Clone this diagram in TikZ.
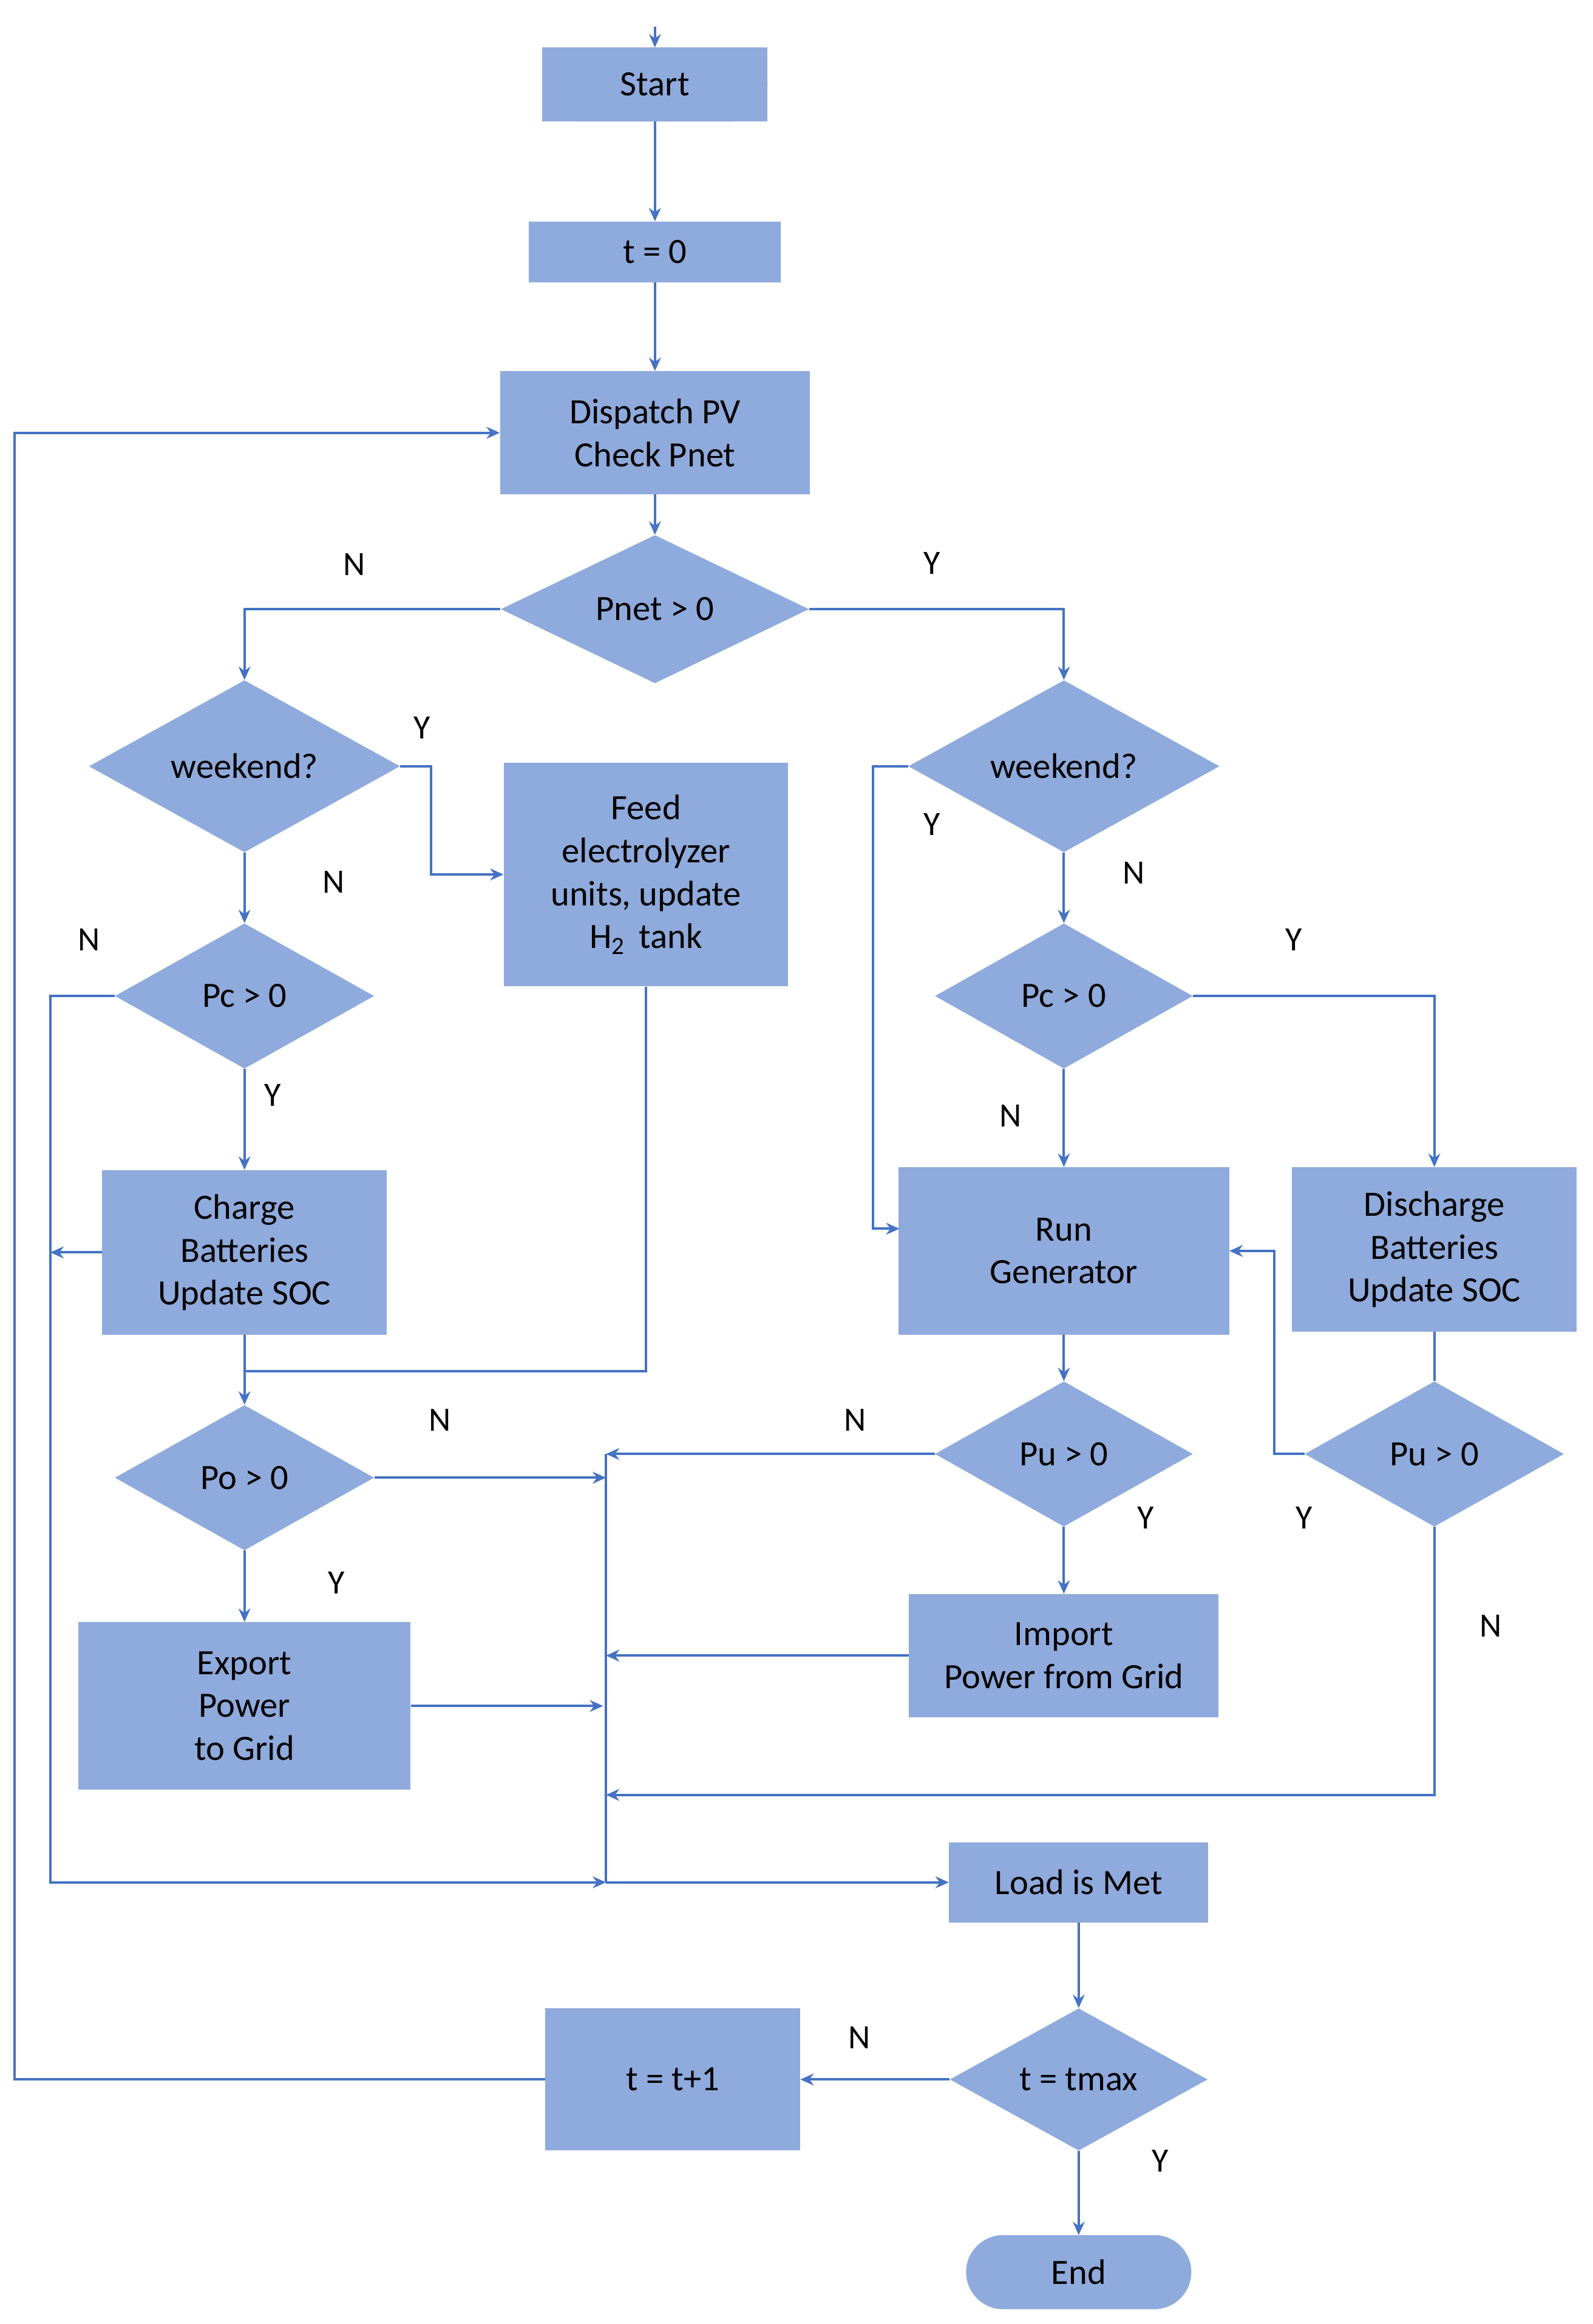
\documentclass[tikz,border=0pt]{standalone}
\usepackage{fontspec}
\setmainfont{Carlito}
\usetikzlibrary{shapes.geometric,arrows.meta}
\definecolor{fillb}{HTML}{8FAADC}
\definecolor{lineb}{HTML}{4472C4}
\begin{document}
\begin{tikzpicture}[x=1pt,y=-1pt,
  every node/.style={font=\fontsize{24}{29}\selectfont},
  box/.style={fill=fillb,draw=none,align=center,inner sep=0},
  dia/.style={diamond,fill=fillb,draw=none,inner sep=0,align=center},
  pill/.style={rounded rectangle,fill=fillb,draw=none,inner sep=0},
  lbl/.style={font=\fontsize{23}{28}\selectfont},
  con/.style={draw=lineb,line width=1.6pt,-{Stealth[length=9pt,width=8pt]}},
  ln/.style={draw=lineb,line width=1.6pt}]
\useasboundingbox (0,0) rectangle (1075,1568);
\fill[fillb] (366,32) rectangle (518,82);
\node[box,minimum width=102pt,minimum height=50pt,rounded corners=25pt,fill=none] (start) at (442,57) {};
\fill[fillb,rounded corners=25pt] (366,32) rectangle (518,82);
\node at (442,57) {Start};
\node[box,minimum width=170pt,minimum height=41pt] (t0) at (442,170) {t = 0};
\node[box,minimum width=209pt,minimum height=83pt] (disp) at (442,292) {Dispatch PV\\Check Pnet};
\node[dia,minimum width=208pt,minimum height=100pt] (pnet) at (442,411) {Pnet > 0};
\node[dia,minimum width=210pt,minimum height=100pt] (wl) at (165,517) {weekend?};
\node[box,minimum width=192pt,minimum height=151pt] (feed) at (436,590) {Feed\\electrolyzer\\units, update\\H\textsubscript{2}\, tank};
\node[dia,minimum width=175pt,minimum height=98pt] (pcl) at (165,672) {Pc > 0};
\node[box,minimum width=192pt,minimum height=111pt] (chg) at (165,845) {Charge\\Batteries\\Update SOC};
\node[dia,minimum width=175pt,minimum height=98pt] (po) at (165,997) {Po > 0};
\node[box,minimum width=224pt,minimum height=113pt] (exp) at (165,1151) {Export\\Power\\to Grid};
\node[dia,minimum width=210pt,minimum height=100pt] (wr) at (718,517) {weekend?};
\node[dia,minimum width=174pt,minimum height=98pt] (pcr) at (718,672) {Pc > 0};
\node[box,minimum width=223pt,minimum height=113pt] (run) at (718,844) {Run\\Generator};
\node[box,minimum width=192pt,minimum height=111pt] (dis) at (968,843) {Discharge\\Batteries\\Update SOC};
\node[dia,minimum width=174pt,minimum height=98pt] (pum) at (718,981) {Pu > 0};
\node[dia,minimum width=175pt,minimum height=98pt] (pur) at (968,981) {Pu > 0};
\node[box,minimum width=209pt,minimum height=83pt] (imp) at (718,1117) {Import\\Power from Grid};
\node[box,minimum width=175pt,minimum height=54pt] (load) at (728,1270) {Load is Met};
\node[dia,minimum width=174pt,minimum height=96pt] (tmax) at (728,1403) {t = tmax};
\node[box,minimum width=172pt,minimum height=96pt] (tp1) at (454,1403) {t = t+1};
\fill[fillb,rounded corners=25pt] (652,1508) rectangle (804,1558);
\node (endn) at (728,1533) {End};
\coordinate (top) at (442,18);
\coordinate (bus) at (409,1270);
% connectors
\draw[con] (top) -- (442,32);
\draw[con] (442,82) -- (t0);
\draw[con] (t0) -- (disp);
\draw[con] (disp) -- (pnet);
\draw[con] (pnet.west) -| (wl.north);
\draw[con] (pnet.east) -| (wr.north);
\draw[con] (wl.east) -- (291,517) |- (feed.west);
\draw[con] (wl) -- (pcl);
\draw[con] (pcl.west) -- (34,672) |- (bus);
\draw[con] (pcl) -- (chg);
\draw[con] (chg.west) -- (34,845);
\draw[con] (chg) -- (po);
\draw[ln] (feed.south) |- (165,925);
\draw[con] (po.east) -- (409,997);
\draw[con] (po) -- (exp);
\draw[con] (exp.east) -- (407,1151);
\draw[ln] (409,981) -- (bus);
\draw[con] (pum.west) -- (409,981);
\draw[con] (pum) -- (imp);
\draw[con] (imp.west) -- (409,1117);
\draw[con] (pur.south) |- (409,1211);
\draw[con] (pur.west) -- (860,981) |- (run.east);
\draw[ln] (dis) -- (pur);
\draw[con] (wr.west) -- (589,517) |- (607,829);
\draw[con] (wr) -- (pcr);
\draw[con] (pcr.east) -| (dis.north);
\draw[con] (pcr) -- (run);
\draw[con] (run) -- (pum);
\draw[con] (bus) -- (load.west);
\draw[con] (load) -- (tmax);
\draw[con] (tmax) -- (tp1);
\draw[con] (tmax) -- (728,1508);
\draw[con] (tp1.west) -- (10,1403) |- (disp.west);
% labels
\node[lbl] at (239,381) {N};
\node[lbl] at (629,380) {Y};
\node[lbl] at (285,491) {Y};
\node[lbl] at (225,595) {N};
\node[lbl] at (60,634) {N};
\node[lbl] at (184,739) {Y};
\node[lbl] at (297,958) {N};
\node[lbl] at (227,1068) {Y};
\node[lbl] at (577,958) {N};
\node[lbl] at (773,1024) {Y};
\node[lbl] at (1006,1097) {N};
\node[lbl] at (880,1024) {Y};
\node[lbl] at (629,556) {Y};
\node[lbl] at (765,589) {N};
\node[lbl] at (873,634) {Y};
\node[lbl] at (682,753) {N};
\node[lbl] at (580,1375) {N};
\node[lbl] at (783,1458) {Y};
\end{tikzpicture}
\end{document}
